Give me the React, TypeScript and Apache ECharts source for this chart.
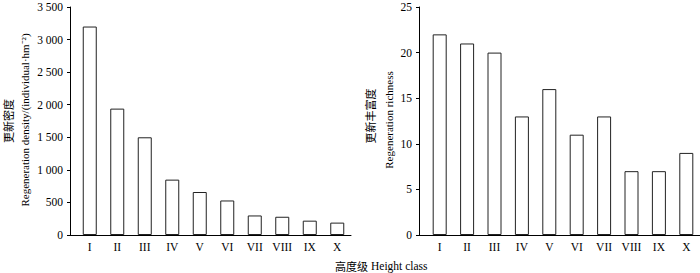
import React, { useEffect, useRef } from "react";
import * as echarts from "echarts";

const categories = ["I", "II", "III", "IV", "V", "VI", "VII", "VIII", "IX", "X"];
const densityValues = [3200, 1940, 1500, 850, 660, 530, 300, 280, 220, 190];
const richnessValues = [22, 21, 20, 13, 16, 11, 13, 7, 7, 9];
const densityAxisName = ["更新密度", "Regeneration density/(individual·hm⁻²)"];
const richnessAxisName = ["更新丰富度", "Regeneration richness"];
const xAxisName = ["高度级", "Height class"];

const SERIF = "'Liberation Serif', 'Times New Roman', serif";
const CJK = "'Noto Sans CJK SC', sans-serif";

function fmtThousands(v: number): string {
  if (v >= 1000) {
    return `${Math.floor(v / 1000)} ${String(v % 1000).padStart(3, "0")}`;
  }
  return String(v);
}

export default function App() {
  const ref = useRef<HTMLDivElement>(null);
  useEffect(() => {
    if (!ref.current) return;
    const chart = echarts.init(ref.current, null, { renderer: "svg" });
    const axisLine = { show: true, lineStyle: { color: "#000", width: 1 } };
    const labelStyle = { fontFamily: SERIF, fontSize: 11.5, color: "#000" };
    const barStyle = { color: "#fff", borderColor: "#222", borderWidth: 1 };
    chart.setOption({
      animation: false,
      backgroundColor: "#fff",
      grid: [
        { left: 76, right: 349, top: 7, bottom: 38 },
        { left: 426, right: 0, top: 7, bottom: 38 },
      ],
      xAxis: [0, 1].map((i) => ({
        type: "category",
        gridIndex: i,
        data: categories,
        axisLine,
        axisTick: { show: false },
        axisLabel: { ...labelStyle, margin: 6, interval: 0 },
        splitLine: { show: false },
      })),
      yAxis: [
        {
          type: "value",
          gridIndex: 0,
          min: 0,
          max: 3500,
          interval: 500,
          offset: 6,
          axisLine,
          axisTick: { show: true, length: 3, lineStyle: { color: "#000" } },
          axisLabel: { ...labelStyle, margin: 7, formatter: fmtThousands },
          splitLine: { show: false },
        },
        {
          type: "value",
          gridIndex: 1,
          min: 0,
          max: 25,
          interval: 5,
          offset: 7,
          axisLine,
          axisTick: { show: true, length: 3, lineStyle: { color: "#000" } },
          axisLabel: { ...labelStyle, margin: 7 },
          splitLine: { show: false },
        },
      ],
      series: [
        {
          type: "bar",
          xAxisIndex: 0,
          yAxisIndex: 0,
          data: densityValues,
          barWidth: 14,
          itemStyle: barStyle,
        },
        {
          type: "bar",
          xAxisIndex: 1,
          yAxisIndex: 1,
          data: richnessValues,
          barWidth: 14,
          itemStyle: barStyle,
        },
      ],
      graphic: [
        { type: "line", shape: { x1: 70, y1: 235.5, x2: 76, y2: 235.5 }, style: { stroke: "#000", lineWidth: 1 } },
        { type: "line", shape: { x1: 419, y1: 235.5, x2: 426, y2: 235.5 }, style: { stroke: "#000", lineWidth: 1 } },
        {
          type: "text",
          x: 8,
          y: 121,
          rotation: Math.PI / 2,
          style: { text: densityAxisName[0], font: `11px ${CJK}`, fill: "#000", align: "center", verticalAlign: "middle" },
        },
        {
          type: "text",
          x: 25,
          y: 120,
          rotation: Math.PI / 2,
          style: { text: densityAxisName[1], font: `11px ${SERIF}`, fill: "#000", align: "center", verticalAlign: "middle" },
        },
        {
          type: "text",
          x: 370,
          y: 116,
          rotation: Math.PI / 2,
          style: { text: richnessAxisName[0], font: `11px ${CJK}`, fill: "#000", align: "center", verticalAlign: "middle" },
        },
        {
          type: "text",
          x: 389,
          y: 120,
          rotation: Math.PI / 2,
          style: { text: richnessAxisName[1], font: `11px ${SERIF}`, fill: "#000", align: "center", verticalAlign: "middle" },
        },
        {
          type: "text",
          x: 368,
          y: 266,
          style: { text: xAxisName[0], font: `11px ${CJK}`, fill: "#000", align: "right", verticalAlign: "middle" },
        },
        {
          type: "text",
          x: 371,
          y: 266,
          style: { text: xAxisName[1], font: `11.5px ${SERIF}`, fill: "#000", align: "left", verticalAlign: "middle" },
        },
      ],
    });
    return () => chart.dispose();
  }, []);
  return (
    <div
      ref={ref}
      style={{ position: "fixed", left: 0, top: 0, width: 700, height: 273, background: "#fff" }}
    />
  );
}
